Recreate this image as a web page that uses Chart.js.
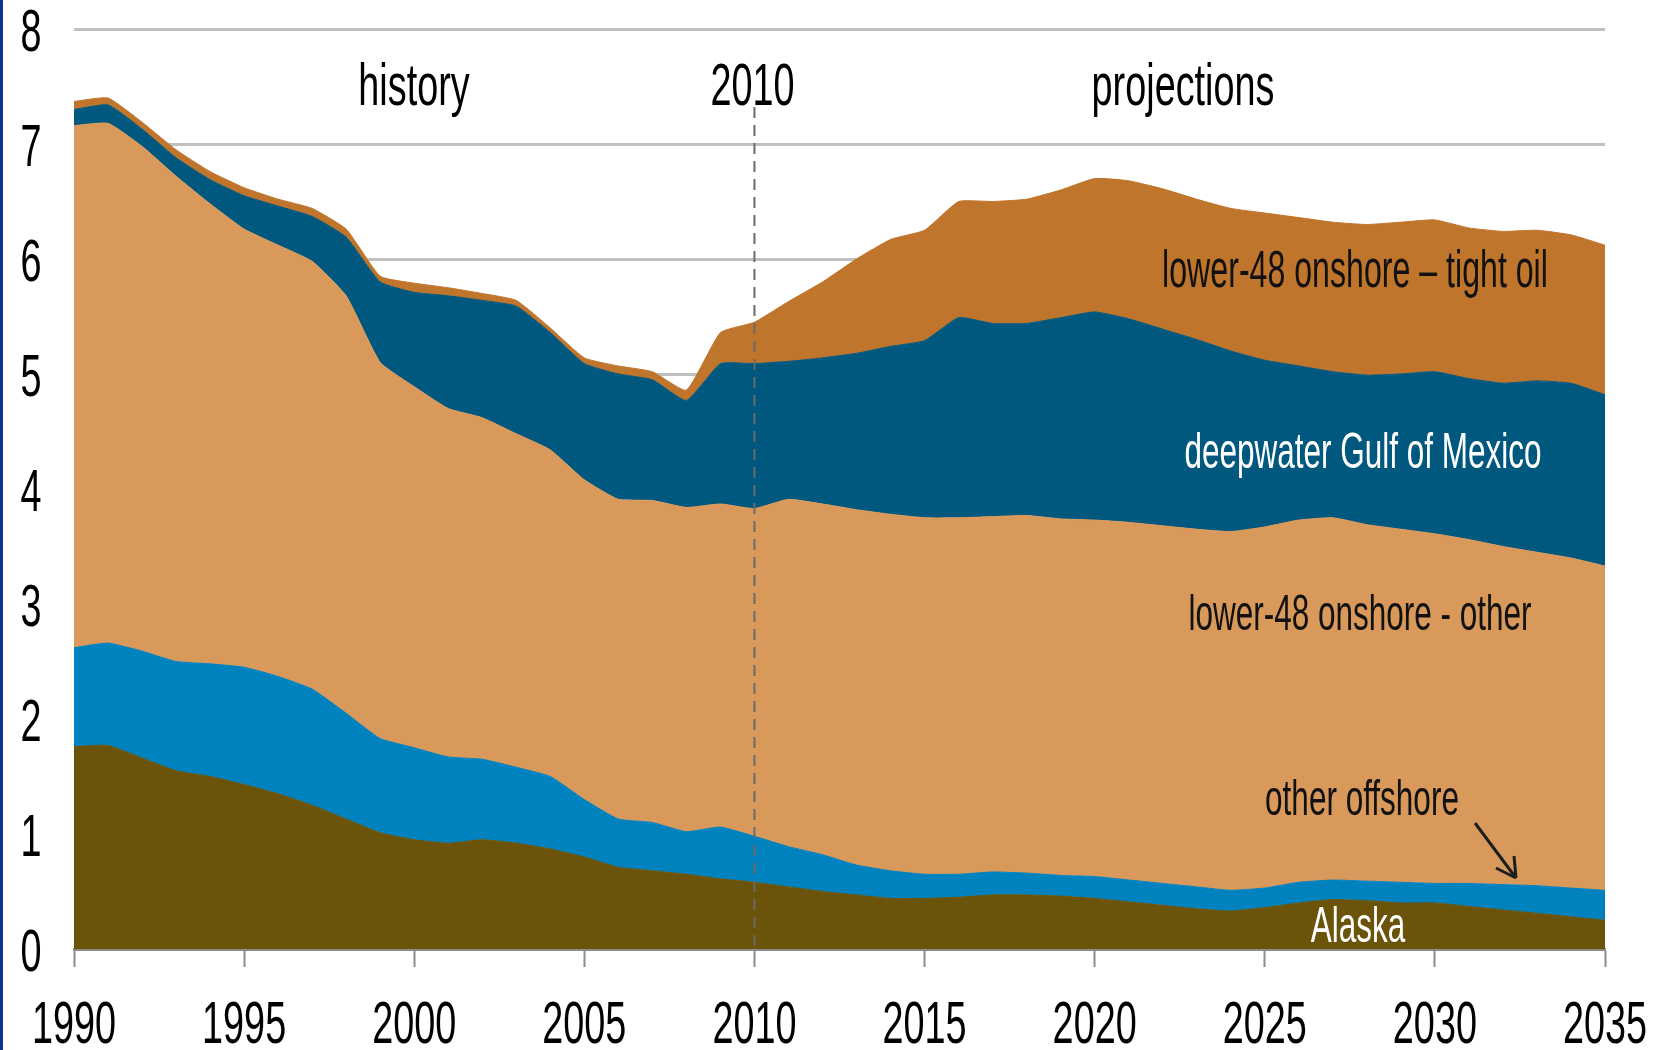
<!DOCTYPE html>
<html>
<head>
  <meta charset="utf-8">
  <title>U.S. crude oil production by source</title>
  <script src="https://cdn.jsdelivr.net/npm/chart.js"></script>
  <style>
    html, body {
      margin: 0;
      padding: 0;
      background: #ffffff;
    }
    .wrap {
      position: relative;
      width: 1653px;
      height: 1050px;
      box-sizing: border-box;
      border-left: 3px solid #10339a;
    }
  </style>
</head>
<body>

<div class="wrap">
  <canvas id="oilChart"></canvas>
</div>

<script>
  const years = [1990, 1991, 1992, 1993, 1994, 1995, 1996, 1997, 1998, 1999,
                 2000, 2001, 2002, 2003, 2004, 2005, 2006, 2007, 2008, 2009,
                 2010, 2011, 2012, 2013, 2014, 2015, 2016, 2017, 2018, 2019,
                 2020, 2021, 2022, 2023, 2024, 2025, 2026, 2027, 2028, 2029,
                 2030, 2031, 2032, 2033, 2034, 2035];

  // million barrels per day
  const alaska = [1.76, 1.77, 1.66, 1.55, 1.50, 1.43, 1.35, 1.25, 1.13, 1.01,
                  0.95, 0.92, 0.95, 0.92, 0.87, 0.80, 0.71, 0.68, 0.65, 0.61,
                  0.58, 0.54, 0.50, 0.47, 0.44, 0.44, 0.45, 0.47, 0.47, 0.46,
                  0.44, 0.41, 0.38, 0.35, 0.33, 0.36, 0.40, 0.43, 0.42, 0.40,
                  0.40, 0.37, 0.34, 0.31, 0.28, 0.25];
  const otherOffshore = [0.86, 0.89, 0.93, 0.95, 0.98, 1.02, 1.02, 1.01, 0.92, 0.82,
                         0.80, 0.75, 0.70, 0.66, 0.63, 0.50, 0.42, 0.42, 0.37, 0.45,
                         0.40, 0.35, 0.32, 0.26, 0.24, 0.21, 0.20, 0.20, 0.19, 0.18,
                         0.19, 0.19, 0.19, 0.19, 0.18, 0.17, 0.18, 0.17, 0.17, 0.18,
                         0.17, 0.20, 0.22, 0.24, 0.25, 0.26];
  const lower48Other = [4.54, 4.52, 4.39, 4.22, 4.00, 3.81, 3.75, 3.72, 3.63, 3.27,
                        3.14, 3.03, 2.97, 2.90, 2.84, 2.78, 2.78, 2.80, 2.82, 2.81,
                        2.85, 3.02, 3.05, 3.09, 3.10, 3.10, 3.10, 3.09, 3.11, 3.10,
                        3.10, 3.11, 3.11, 3.11, 3.12, 3.14, 3.15, 3.15, 3.10, 3.07,
                        3.04, 2.99, 2.94, 2.90, 2.87, 2.82];
  const deepwaterGom = [0.14, 0.16, 0.15, 0.16, 0.21, 0.29, 0.34, 0.39, 0.51, 0.70,
                        0.82, 0.98, 1.02, 1.11, 1.02, 1.01, 1.09, 1.05, 0.93, 1.22,
                        1.26, 1.20, 1.27, 1.36, 1.46, 1.54, 1.74, 1.68, 1.67, 1.75,
                        1.81, 1.77, 1.71, 1.65, 1.57, 1.45, 1.34, 1.27, 1.30, 1.35,
                        1.41, 1.40, 1.42, 1.49, 1.52, 1.49];
  const tightOil = [0.07, 0.06, 0.06, 0.07, 0.07, 0.07, 0.06, 0.07, 0.07, 0.05,
                    0.08, 0.07, 0.06, 0.05, 0.04, 0.05, 0.07, 0.07, 0.09, 0.27,
                    0.36, 0.52, 0.66, 0.82, 0.93, 0.96, 1.01, 1.06, 1.08, 1.11,
                    1.16, 1.20, 1.22, 1.22, 1.24, 1.28, 1.29, 1.30, 1.31, 1.32,
                    1.32, 1.31, 1.32, 1.31, 1.29, 1.30];

  const xTickLabels = ['1990', '1995', '2000', '2005', '2010', '2015', '2020', '2025', '2030', '2035'];
  const yTickLabels = ['0', '1', '2', '3', '4', '5', '6', '7', '8'];

  const seriesNames = ['Alaska', 'other offshore', 'lower-48 onshore - other',
                       'deepwater Gulf of Mexico', 'lower-48 onshore \u2013 tight oil'];
  const seriesColors = ['#6b5309', '#0082bf', '#d8995b', '#00587f', '#c0752c'];
  const seriesData = [alaska, otherOffshore, lower48Other, deepwaterGom, tightOil];

  const FONT = '"Liberation Sans", Arial, sans-serif';
  const SQUEEZE = 0.63;

  function narrowText(ctx, text, x, y, size, color, align) {
    ctx.save();
    ctx.translate(x, y);
    ctx.scale(SQUEEZE, 1);
    ctx.font = size + 'px ' + FONT;
    ctx.fillStyle = color;
    ctx.textAlign = align || 'center';
    ctx.textBaseline = 'alphabetic';
    ctx.fillText(text, 0, 0);
    ctx.restore();
  }

  const overlay = {
    id: 'overlay',
    afterDatasetsDraw(chart) {
      const ctx = chart.ctx;
      const xs = chart.scales.x;
      const ys = chart.scales.y;
      const x2010 = xs.getPixelForValue(years.indexOf(2010));

      // 2010 divider
      ctx.save();
      ctx.strokeStyle = '#6a6a6a';
      ctx.lineWidth = 2;
      ctx.setLineDash([11, 7]);
      ctx.beginPath();
      ctx.moveTo(x2010, 107);
      ctx.lineTo(x2010, ys.getPixelForValue(0));
      ctx.stroke();
      ctx.restore();

      // arrow to other offshore
      ctx.save();
      ctx.strokeStyle = '#1e1e1e';
      ctx.lineWidth = 3;
      ctx.beginPath();
      ctx.moveTo(1472, 823);
      ctx.lineTo(1513, 878);
      ctx.moveTo(1513, 878);
      ctx.lineTo(1493, 868);
      ctx.moveTo(1513, 878);
      ctx.lineTo(1511, 856);
      ctx.stroke();
      ctx.restore();
    },
    afterDraw(chart) {
      const ctx = chart.ctx;
      const xs = chart.scales.x;
      const ys = chart.scales.y;

      yTickLabels.forEach(t => {
        const py = ys.getPixelForValue(Number(t));
        narrowText(ctx, t, 28, py + 22, 60, '#000', 'center');
      });
      xTickLabels.forEach(t => {
        const px = xs.getPixelForValue(years.indexOf(Number(t)));
        narrowText(ctx, t, px, 1043, 60, '#000', 'center');
      });

      narrowText(ctx, 'history', 411, 105, 60, '#000');
      narrowText(ctx, '2010', xs.getPixelForValue(years.indexOf(2010)) - 2, 105, 60, '#000');
      narrowText(ctx, 'projections', 1180, 105, 60, '#000');

      narrowText(ctx, seriesNames[4], 1352, 287, 51, '#111');
      narrowText(ctx, seriesNames[3], 1360, 468, 50, '#fff');
      narrowText(ctx, seriesNames[2], 1357, 630, 50, '#111');
      narrowText(ctx, seriesNames[1], 1359, 815, 50, '#111');
      narrowText(ctx, seriesNames[0], 1355, 942, 50, '#fff');
    }
  };

  const datasets = seriesData.map((d, i) => ({
    label: seriesNames[i],
    data: d,
    backgroundColor: seriesColors[i],
    borderColor: seriesColors[i],
    borderWidth: 1,
    pointRadius: 0,
    tension: 0.15,
    fill: i === 0 ? 'origin' : '-1'
  }));

  new Chart(document.getElementById('oilChart'), {
    type: 'line',
    data: { labels: years, datasets: datasets },
    options: {
      responsive: true,
      maintainAspectRatio: false,
      animation: false,
      layout: { padding: { top: 29, right: 48, left: 0, bottom: 0 } },
      plugins: {
        legend: { display: false },
        tooltip: { enabled: false }
      },
      scales: {
        x: {
          offset: false,
          ticks: { display: false, autoSkip: false },
          grid: {
            drawOnChartArea: false,
            drawTicks: true,
            tickLength: 18,
            tickWidth: 2,
            tickColor: c => (years[c.index] % 5 === 0 ? '#8c8c8c' : 'rgba(0,0,0,0)')
          },
          border: { display: true, color: '#8c8c8c', width: 3 },
          afterFit: s => { s.height = 101; }
        },
        y: {
          stacked: true,
          min: 0,
          max: 8,
          ticks: { display: false, stepSize: 1 },
          grid: { color: '#c0c0c0', lineWidth: 3, drawTicks: false },
          border: { display: false },
          afterFit: s => { s.width = 71; }
        }
      }
    },
    plugins: [overlay]
  });
</script>

</body>
</html>
